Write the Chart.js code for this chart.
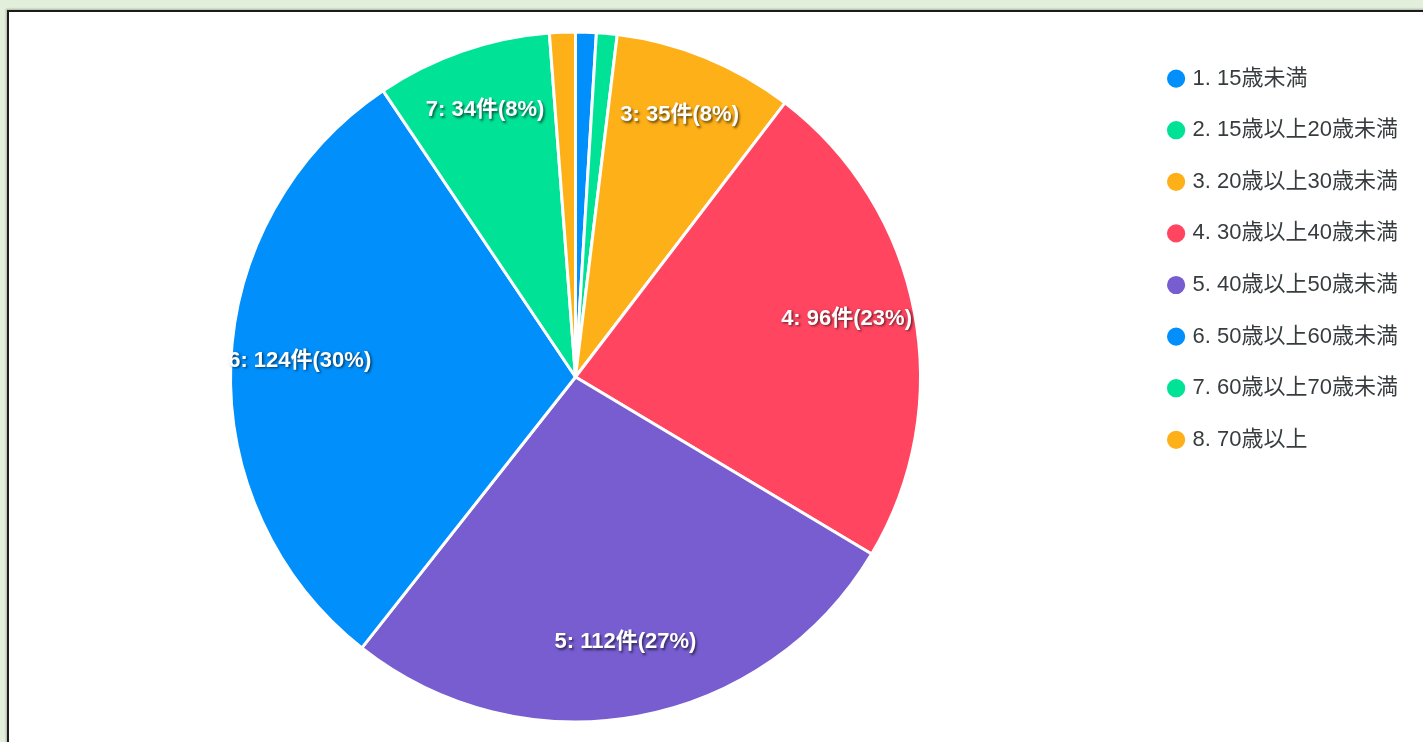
<!DOCTYPE html>
<html lang="ja">
<head>
  <meta charset="UTF-8">
  <meta name="viewport" content="width=device-width, initial-scale=1.0">
  <title>年齢別件数</title>
  <script src="https://cdn.jsdelivr.net/npm/chart.js"></script>
  <style>
    body {
      margin: 0;
      background-color: #e2efda;
      overflow: hidden;
    }
    #panel {
      position: absolute;
      left: 7px;
      top: 10px;
      width: 1440px;
      height: 780px;
      background: #fff;
      border: 2px solid #1c1c1c;
      box-shadow: -1px -1px 2px rgba(0, 0, 0, 0.25);
    }
    #chartBox {
      position: absolute;
      left: 0;
      top: 0;
      width: 1414px;
      height: 730px;
    }
  </style>
</head>
<body>
  <div id="panel">
    <div id="chartBox"><canvas id="ageChart"></canvas></div>
  </div>
  <script>
    // 年齢区分と件数
    const categories = [
      '1. 15歳未満',
      '2. 15歳以上20歳未満',
      '3. 20歳以上30歳未満',
      '4. 30歳以上40歳未満',
      '5. 40歳以上50歳未満',
      '6. 50歳以上60歳未満',
      '7. 60歳以上70歳未満',
      '8. 70歳以上'
    ];
    const counts = [4, 4, 35, 96, 112, 124, 34, 5];

    // 配色
    const sliceColors = ['#008FFB', '#00E396', '#FEB019', '#FF4560', '#775DD0', '#008FFB', '#00E396', '#FEB019'];

    const fontFamily = 'Arial, "Liberation Sans", "Noto Sans CJK JP", sans-serif';

    // 扇形の中に「番号: 件数件(割合%)」を描く
    const sliceLabels = {
      id: 'sliceLabels',
      afterDatasetsDraw(chart) {
        const ctx = chart.ctx;
        const meta = chart.getDatasetMeta(0);
        const total = counts.reduce((a, b) => a + b, 0);
        ctx.save();
        ctx.font = 'bold 22px ' + fontFamily;
        ctx.textAlign = 'center';
        ctx.textBaseline = 'alphabetic';
        ctx.fillStyle = '#fff';
        ctx.shadowColor = 'rgba(0, 0, 0, 0.6)';
        ctx.shadowOffsetX = 1.5;
        ctx.shadowOffsetY = 1.5;
        ctx.shadowBlur = 2.5;
        meta.data.forEach((arc, i) => {
          const p = arc.getProps(['x', 'y', 'startAngle', 'endAngle', 'outerRadius'], true);
          if (p.endAngle - p.startAngle < Math.PI / 18) return; // 小さい扇形は省略
          const mid = (p.startAngle + p.endAngle) / 2;
          const r = p.outerRadius * 0.8;
          const pct = Math.round(counts[i] / total * 100);
          ctx.fillText((i + 1) + ': ' + counts[i] + '件(' + pct + '%)',
            p.x + Math.cos(mid) * r, p.y + Math.sin(mid) * r);
        });
        ctx.restore();
      }
    };

    const ctx = document.getElementById('ageChart').getContext('2d');
    new Chart(ctx, {
      type: 'pie',
      data: {
        labels: categories,
        datasets: [{
          data: counts,
          backgroundColor: sliceColors,
          borderColor: '#fff',
          borderWidth: 3,
          hoverOffset: 0
        }]
      },
      options: {
        responsive: true,
        maintainAspectRatio: false,
        animation: false,
        radius: 345,
        layout: {
          padding: { top: 26, bottom: 26, left: 1, right: 15 }
        },
        plugins: {
          legend: {
            position: 'right',
            align: 'start',
            labels: {
              usePointStyle: true,
              pointStyle: 'circle',
              boxWidth: 11,
              boxHeight: 15,
              padding: 29.6,
              color: '#373d3f',
              font: {
                family: fontFamily,
                size: 22
              }
            }
          },
          tooltip: {
            enabled: true
          }
        }
      },
      plugins: [sliceLabels]
    });
  </script>
</body>
</html>
